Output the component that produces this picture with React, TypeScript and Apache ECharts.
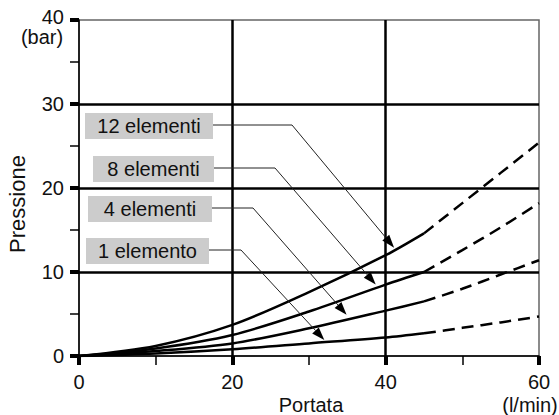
import React, { useEffect, useRef } from "react";
import * as echarts from "echarts";

// Flow (l/min) sample points: measured range and extrapolated range
const flowMeasured = [0, 10, 20, 30, 40, 45];
const flowExtrapolated = [45, 50, 55, 60];

// Pressure drop (bar) per filter configuration
const labels = ["12 elementi", "8 elementi", "4 elementi", "1 elemento"];
const p12Measured = [0, 1.2, 3.7, 7.6, 12.0, 14.6];
const p12Extrapolated = [14.6, 18.2, 21.8, 25.4];
const p8Measured = [0, 0.9, 2.5, 5.3, 8.5, 10.0];
const p8Extrapolated = [10.0, 12.6, 15.3, 18.2];
const p4Measured = [0, 0.6, 1.5, 3.3, 5.4, 6.5];
const p4Extrapolated = [6.5, 8.0, 9.7, 11.4];
const p1Measured = [0, 0.3, 0.8, 1.5, 2.2, 2.7];
const p1Extrapolated = [2.7, 3.35, 4.0, 4.7];

// Where each callout arrow touches its curve (flow, pressure)
const arrowFlow = [41.1, 38.7, 34.9, 32.0];
const arrowPressure = [12.9, 8.5, 4.9, 1.9];

const FONT = '"Liberation Sans", Arial, sans-serif';
const INK = "#111";

// Callout boxes layout (pixels)
const calloutLayout = [
  { x: 85, y: 113, w: 128, h: 26, elbowX: 292 },
  { x: 93, y: 156, w: 121, h: 26, elbowX: 275 },
  { x: 88, y: 196, w: 124, h: 26, elbowX: 253 },
  { x: 86, y: 238, w: 123, h: 26, elbowX: 241 },
];

const zip = (xs: number[], ys: number[]) => xs.map((x, i) => [x, ys[i]]);

export default function App() {
  const ref = useRef<HTMLDivElement>(null);

  useEffect(() => {
    document.body.style.margin = "0";
    if (!ref.current) return;
    const chart = echarts.init(ref.current, undefined, { renderer: "svg" });

    const measured = [p12Measured, p8Measured, p4Measured, p1Measured];
    const extrapolated = [p12Extrapolated, p8Extrapolated, p4Extrapolated, p1Extrapolated];

    const series: any[] = [];
    labels.forEach((name, i) => {
      series.push({
        name,
        type: "line",
        data: zip(flowMeasured, measured[i]),
        smooth: 0.3,
        showSymbol: false,
        lineStyle: { color: "#000", width: 2.5 },
        z: 5,
      });
      series.push({
        name: name + " (extrap.)",
        type: "line",
        data: zip(flowExtrapolated, extrapolated[i]),
        smooth: 0.3,
        showSymbol: false,
        lineStyle: { color: "#000", width: 2.5, type: [12, 7] },
        z: 5,
      });
    });

    const labelStyle = { color: INK, fontFamily: FONT, fontSize: 20 };

    chart.setOption({
      animation: false,
      grid: {
        left: 79,
        right: 20,
        top: 20,
        bottom: 59,
        show: true,
        borderColor: "#666",
        borderWidth: 1.5,
      },
      xAxis: {
        type: "value",
        min: 0,
        max: 60,
        interval: 20,
        axisLine: { show: true, lineStyle: { color: "#000", width: 1.5 } },
        axisTick: { show: true, length: 9, lineStyle: { color: "#000", width: 4 } },
        minorTick: { show: true, splitNumber: 2, length: 9, lineStyle: { color: "#000", width: 1.5 } },
        splitLine: {
          show: true,
          showMinLine: false,
          showMaxLine: false,
          lineStyle: { color: "#000", width: 2.5 },
        },
        axisLabel: { ...labelStyle, margin: 16 },
      },
      yAxis: {
        type: "value",
        min: 0,
        max: 40,
        interval: 10,
        axisLine: { show: true, lineStyle: { color: "#000", width: 1.5 } },
        axisTick: { show: true, length: 9, lineStyle: { color: "#000", width: 4 } },
        minorTick: { show: true, splitNumber: 2, length: 9, lineStyle: { color: "#000", width: 1.5 } },
        splitLine: {
          show: true,
          showMinLine: false,
          showMaxLine: false,
          lineStyle: { color: "#000", width: 2.5 },
        },
        axisLabel: {
          ...labelStyle,
          margin: 15,
          // the top value sits a little higher to leave room for the unit below it
          formatter: (v: number) => (v === 40 ? "{top|40}" : String(v)),
          rich: {
            top: { color: INK, fontFamily: FONT, fontSize: 20, lineHeight: 18, padding: [0, 0, 6, 0] },
          },
        },
      },
      series,
    });

    // Callouts: grey label boxes with leader lines ending in arrowheads on the curves
    const graphics: any[] = [];
    calloutLayout.forEach((b, i) => {
      const tip = chart.convertToPixel({ gridIndex: 0 }, [arrowFlow[i], arrowPressure[i]]) as number[];
      const lineY = b.y + b.h / 2 - 1;
      const dx = tip[0] - b.elbowX;
      const dy = tip[1] - lineY;
      const len = Math.hypot(dx, dy);
      const ux = dx / len;
      const uy = dy / len;
      const headLen = 13;
      const headHalf = 4.5;
      const base = [tip[0] - ux * headLen, tip[1] - uy * headLen];
      graphics.push({
        type: "rect",
        shape: { x: b.x, y: b.y, width: b.w, height: b.h },
        style: { fill: "#cccccc" },
        z: 10,
      });
      graphics.push({
        type: "text",
        x: b.x + b.w / 2,
        y: b.y + b.h / 2,
        style: {
          text: labels[i],
          fill: INK,
          font: `20px ${FONT}`,
          textAlign: "center",
          textVerticalAlign: "middle",
        },
        z: 11,
      });
      graphics.push({
        type: "polyline",
        shape: { points: [[b.x + b.w, lineY], [b.elbowX, lineY], base] },
        style: { stroke: "#222", lineWidth: 1, fill: null },
        z: 10,
      });
      graphics.push({
        type: "polygon",
        shape: {
          points: [
            tip,
            [base[0] - uy * headHalf, base[1] + ux * headHalf],
            [base[0] + uy * headHalf, base[1] - ux * headHalf],
          ],
        },
        style: { fill: "#000" },
        z: 10,
      });
    });

    // Axis titles and units
    graphics.push(
      {
        type: "text",
        x: 17,
        y: 204,
        rotation: Math.PI / 2,
        style: { text: "Pressione", fill: INK, font: `22px ${FONT}`, textAlign: "center", textVerticalAlign: "middle" },
      },
      {
        type: "text",
        x: 42,
        y: 37,
        style: { text: "(bar)", fill: INK, font: `20px ${FONT}`, textAlign: "center", textVerticalAlign: "middle" },
      },
      {
        type: "text",
        x: 311,
        y: 405,
        style: { text: "Portata", fill: INK, font: `20px ${FONT}`, textAlign: "center", textVerticalAlign: "middle" },
      },
      {
        type: "text",
        x: 530,
        y: 405,
        style: { text: "(l/min)", fill: INK, font: `20px ${FONT}`, textAlign: "center", textVerticalAlign: "middle" },
      }
    );

    chart.setOption({ graphic: graphics });

    return () => chart.dispose();
  }, []);

  return <div ref={ref} style={{ width: 559, height: 415 }} />;
}
